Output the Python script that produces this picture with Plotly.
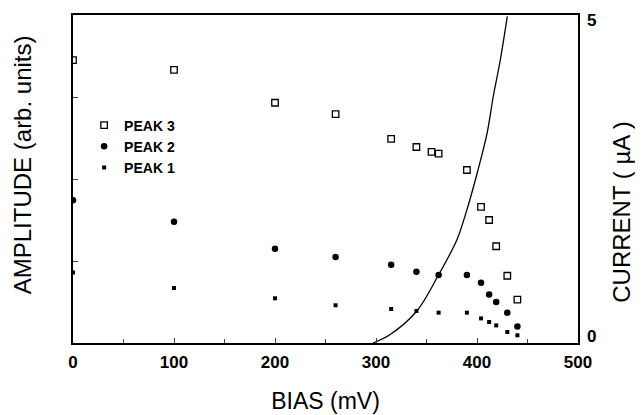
import plotly.graph_objects as go

# Data
bias_p3 = [0, 100, 200, 260, 315, 340, 355, 362, 390, 404, 412, 419, 430, 440]
amp_p3 = [3.45, 3.33, 2.93, 2.79, 2.49, 2.39, 2.33, 2.31, 2.11, 1.66, 1.50, 1.18, 0.82, 0.53]

bias_p2 = [0, 100, 200, 260, 315, 340, 362, 390, 404, 412, 419, 430, 440]
amp_p2 = [1.74, 1.48, 1.15, 1.05, 0.955, 0.87, 0.83, 0.83, 0.735, 0.59, 0.50, 0.37, 0.20]

bias_p1 = [0, 100, 200, 260, 315, 340, 362, 390, 404, 412, 419, 430, 440]
amp_p1 = [0.86, 0.67, 0.545, 0.46, 0.415, 0.39, 0.37, 0.37, 0.30, 0.256, 0.215, 0.134, 0.094]

bias_iv = [297, 314, 340, 362, 380, 390, 400, 410, 416, 423, 430]
current_iv = [0.0, 0.13, 0.48, 1.04, 1.57, 2.03, 2.58, 3.2, 3.75, 4.31, 4.98]

x_ticks = [0, 100, 200, 300, 400, 500]
current_tick_pos = [0.1, 4.92]
current_tick_text = ["0", "5"]

font_fam = "Liberation Sans, Arial, sans-serif"

fig = go.Figure()
fig.add_trace(go.Scatter(x=bias_p3, y=amp_p3, mode="markers", name="PEAK 3",
                         marker=dict(symbol="square-open", size=6.5, color="black",
                                     line=dict(width=1.3, color="black"))))
fig.add_trace(go.Scatter(x=bias_p2, y=amp_p2, mode="markers", name="PEAK 2",
                         marker=dict(symbol="circle", size=6.5, color="black")))
fig.add_trace(go.Scatter(x=bias_p1, y=amp_p1, mode="markers", name="PEAK 1",
                         marker=dict(symbol="square", size=4, color="black")))
fig.add_trace(go.Scatter(x=bias_iv, y=current_iv, mode="lines", yaxis="y2",
                         showlegend=False, line=dict(color="black", width=1.3, shape="spline")))

fig.update_layout(
    width=635, height=407,
    margin=dict(l=65, r=65, t=7, b=72),
    paper_bgcolor="white", plot_bgcolor="white",
    font=dict(family=font_fam, color="black"),
    showlegend=True,
    legend=dict(x=0.022, y=0.712, xanchor="left", yanchor="top",
                bgcolor="rgba(0,0,0,0)", font=dict(size=14, weight="bold"),
                tracegroupgap=0, itemwidth=30),
    xaxis=dict(range=[0, 500], tickvals=x_ticks, ticks="inside", ticklen=5,
               automargin=False, ticklabelstandoff=3,
               showgrid=False, zeroline=False, showline=True, linecolor="black", linewidth=1.5,
               mirror=True, tickfont=dict(size=17, weight="bold"),
               minor=dict(dtick=50, tick0=0, ticks="inside", ticklen=4),
               title=dict(text="BIAS (mV)", font=dict(size=23), standoff=22)),
    yaxis=dict(range=[0, 4], tickvals=[0, 1, 2, 3, 4], ticks="inside", ticklen=5,
               automargin=False,
               showticklabels=False, showgrid=False, zeroline=False, showline=True,
               linecolor="black", linewidth=1.5, mirror=True),
    yaxis2=dict(range=[0, 5], tickvals=current_tick_pos, ticktext=current_tick_text,
                overlaying="y", side="right", automargin=False,
                showgrid=False, zeroline=False, showline=False, ticks="",
                ticklabelstandoff=8,
                tickfont=dict(size=17, weight="bold")),
    annotations=[
        dict(text="AMPLITUDE (arb. units)", xref="paper", yref="paper",
             x=-0.101, y=0.545, xanchor="center", yanchor="middle",
             textangle=-90, showarrow=False, font=dict(size=24)),
        dict(text="CURRENT ( µA )", xref="paper", yref="paper",
             x=1.087, y=0.40, xanchor="center", yanchor="middle",
             textangle=-90, showarrow=False, font=dict(size=24)),
    ],
)

fig.write_html("out.html")
